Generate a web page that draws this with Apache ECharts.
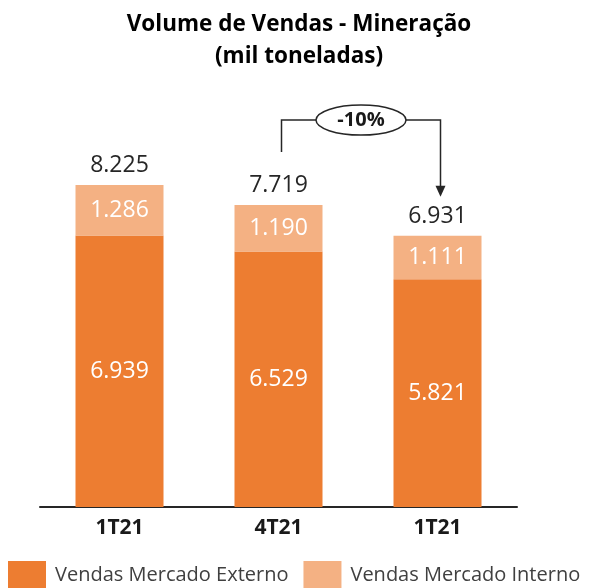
<!DOCTYPE html>
<html>
<head>
<meta charset="utf-8">
<script src="https://cdn.jsdelivr.net/npm/echarts@6/dist/echarts.min.js"></script>
<style>
  html, body { margin: 0; padding: 0; background: #fff; }
  #chart { width: 598px; height: 588px; }
</style>
</head>
<body>
<div id="chart"></div>
<script>
// dados do gráfico
const categories = ['1T21', '4T21', '1T21']
const externo = [6.939, 6.529, 5.821]
const interno = [1.286, 1.19, 1.111]
const totals = [8.225, 7.719, 6.931]
const variation = '-10%'

const FONT = '"Open Sans", sans-serif'
const fmt = v => v.toFixed(3)

const chart = echarts.init(document.getElementById('chart'))

chart.setOption({
  animation: false,
  title: {
    text: 'Volume de Vendas - Mineração\n(mil toneladas)',
    left: 'center',
    top: 4,
    textStyle: {
      fontFamily: FONT,
      fontSize: 22.5,
      fontWeight: 'bold',
      color: '#000',
      lineHeight: 32
    }
  },
  grid: { left: 40, right: 81, top: 100, bottom: 81 },
  xAxis: {
    type: 'category',
    data: categories,
    axisLine: { lineStyle: { color: '#262626', width: 2 } },
    axisTick: { show: false },
    axisLabel: {
      margin: 11,
      fontFamily: FONT,
      fontSize: 21,
      fontWeight: 'bold',
      color: '#1a1a1a'
    }
  },
  yAxis: { type: 'value', min: 0, max: 10.4, show: false },
  legend: {
    left: 8,
    top: 561,
    padding: 0,
    itemWidth: 38,
    itemHeight: 28,
    itemGap: 15,
    icon: 'rect',
    textStyle: { fontFamily: FONT, fontSize: 20, color: '#404040', padding: [0, 0, 0, 4] },
    data: ['Vendas Mercado Externo', 'Vendas Mercado Interno']
  },
  series: [
    {
      name: 'Vendas Mercado Externo',
      type: 'bar',
      stack: 'total',
      barWidth: 88,
      data: externo,
      itemStyle: { color: '#ED7D31' },
      label: {
        show: true,
        position: 'inside',
        formatter: p => fmt(p.value),
        fontFamily: FONT,
        fontSize: 23,
        color: '#fff'
      }
    },
    {
      name: 'Vendas Mercado Interno',
      type: 'bar',
      stack: 'total',
      barWidth: 88,
      data: interno,
      itemStyle: { color: '#F4B183' },
      label: {
        show: true,
        position: 'inside',
        formatter: p => fmt(p.value),
        fontFamily: FONT,
        fontSize: 23,
        color: '#fff'
      }
    },
    {
      // totais acima das barras
      type: 'bar',
      stack: 'total',
      barWidth: 88,
      data: totals.map(() => 0),
      itemStyle: { color: 'transparent' },
      silent: true,
      label: {
        show: true,
        position: 'top',
        distance: 8,
        formatter: p => fmt(totals[p.dataIndex]),
        fontFamily: FONT,
        fontSize: 23,
        color: '#262626'
      }
    }
  ]
})

// seta de variação entre 4T21 e 1T21
const p1 = chart.convertToPixel({ seriesIndex: 0 }, [0, totals[0]])
const p2 = chart.convertToPixel({ seriesIndex: 0 }, [1, totals[1]])
const p3 = chart.convertToPixel({ seriesIndex: 0 }, [2, totals[2]])
const lx = p2[0] + 3
const rx = p3[0] + 3
const yTop = p1[1] - 65
const cx = (lx + rx) / 2
const tipY = p3[1] - 39
const lineStyle = { stroke: '#262626', lineWidth: 1.5, fill: null }

chart.setOption({
  graphic: [
    { type: 'polyline', shape: { points: [[lx, p2[1] - 53], [lx, yTop], [cx, yTop]] }, style: lineStyle },
    { type: 'polyline', shape: { points: [[cx, yTop], [rx, yTop], [rx, tipY - 9]] }, style: lineStyle },
    { type: 'polygon', shape: { points: [[rx - 5, tipY - 11], [rx + 5, tipY - 11], [rx, tipY]] }, style: { fill: '#262626' } },
    { type: 'ellipse', shape: { cx: cx, cy: yTop, rx: 45, ry: 15 }, style: { fill: '#fff', stroke: '#262626', lineWidth: 1.5 } },
    {
      type: 'text',
      style: {
        x: cx, y: yTop, text: variation, align: 'center', verticalAlign: 'middle',
        fontFamily: FONT, fontSize: 20, fontWeight: 'bold', fill: '#1a1a1a'
      }
    }
  ]
})
</script>
</body>
</html>
